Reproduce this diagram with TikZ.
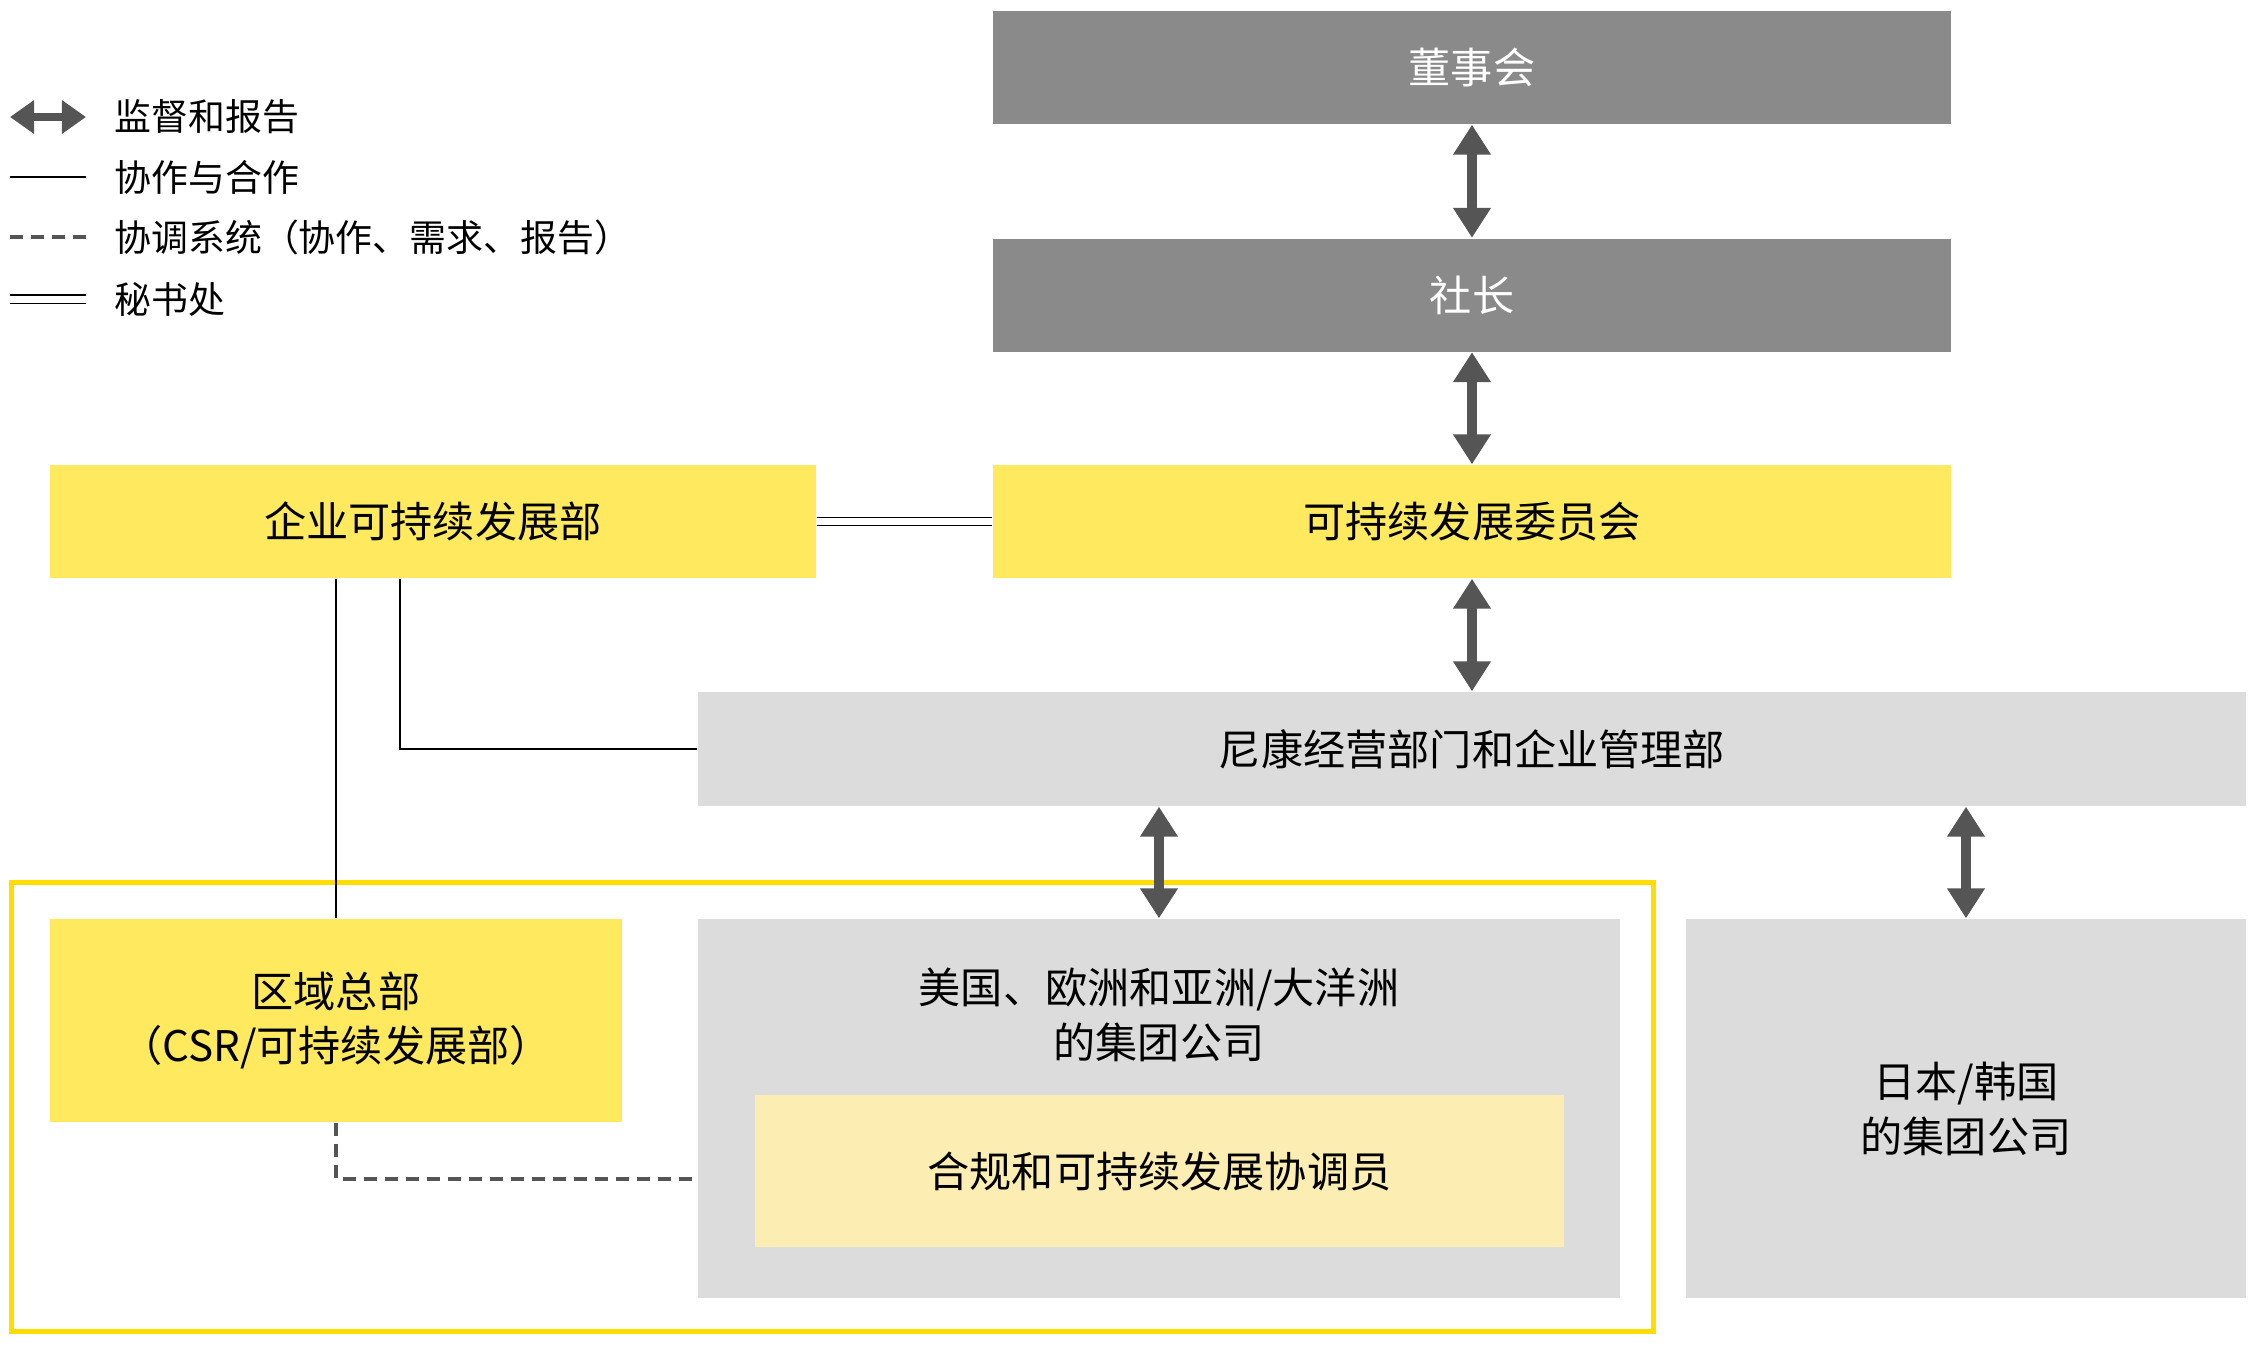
\documentclass[tikz,border=0pt]{standalone}
\usepackage{fontspec}
\setmainfont{Noto Sans CJK SC}
\usetikzlibrary{positioning,arrows.meta}

\definecolor{boardgray}{HTML}{8A8A8A}
\definecolor{sdyellow}{HTML}{FEE95F}
\definecolor{orggray}{HTML}{DCDCDC}
\definecolor{paleyellow}{HTML}{FCEDB2}
\definecolor{frameyellow}{HTML}{FFDD00}
\definecolor{arrowgray}{HTML}{555555}

\begin{document}
\begin{tikzpicture}[>={Triangle[width=0.36cm,length=0.30cm]}, font=\fontsize{12}{15.6}\selectfont]
	\tikzstyle{box}=[rectangle,inner sep=0pt,align=center,minimum height=1.13cm]
	\tikzstyle{top box}=[box,fill=boardgray,text=white,minimum width=9.58cm]
	\tikzstyle{sd box}=[box,fill=sdyellow]
	\tikzstyle{org box}=[box,fill=orggray]
	\tikzstyle{report}=[<->,line width=0.1cm,draw=arrowgray]
	\tikzstyle{coop}=[line width=0.3pt,draw=black]
	\tikzstyle{liaison}=[line width=0.045cm,draw=arrowgray,dash pattern=on 0.13cm off 0.08cm]
	\tikzstyle{secretariat}=[draw=black,line width=0.3pt,double=white,double distance=0.07cm]
	\tikzstyle{legend}=[anchor=west,font=\fontsize{10.5}{13}\selectfont]

	\useasboundingbox (0,0) rectangle (22.56,-13.44);

	% legend
	\coordinate (l1a) at (0.10,-1.17); \coordinate (l1b) at (0.86,-1.17);
	\coordinate (l2a) at (0.10,-1.77); \coordinate (l2b) at (0.86,-1.77);
	\coordinate (l3a) at (0.10,-2.37); \coordinate (l3b) at (0.86,-2.37);
	\coordinate (l4a) at (0.10,-2.99); \coordinate (l4b) at (0.86,-2.99);
	\draw[report,line width=0.08cm,{Triangle[width=0.32cm,length=0.24cm]}-{Triangle[width=0.32cm,length=0.24cm]}] (l1a) -- (l1b);
	\draw[coop] (l2a) -- (l2b);
	\draw[liaison] (l3a) -- (l3b);
	\draw[secretariat] (l4a) -- (l4b);
	\node[legend] (lt1) at (1.02,-1.17) {监督和报告};
	\node[legend] (lt2) at (1.02,-1.77) {协作与合作};
	\node[legend] (lt3) at (1.02,-2.37) {协调系统（协作、需求、报告）};
	\node[legend] (lt4) at (1.02,-2.99) {秘书处};

	% overseas frame
	\draw[frameyellow,line width=0.05cm] (0.115,-8.82) rectangle (16.53,-13.31);

	\node[top box] (board) at (14.72,-0.675) {董事会};
	\node[top box] (president) at (14.72,-2.95) {社长};
	\node[sd box,minimum width=9.58cm] (committee) at (14.72,-5.215) {可持续发展委员会};
	\node[sd box,minimum width=7.66cm] (corpsd) at (4.33,-5.215) {企业可持续发展部};
	\node[org box,minimum width=15.48cm,minimum height=1.14cm] (nikon) at (14.72,-7.49) {尼康经营部门和企业管理部};

	\node[sd box,minimum width=5.72cm,minimum height=2.03cm] (regional) at (3.36,-10.205) {区域总部\\（CSR/可持续发展部）};
	\node[org box,minimum width=9.22cm,minimum height=3.79cm] (group) at (11.59,-11.085) {};
	\node[align=center] (grouplabel) at (11.59,-10.145) {美国、欧洲和亚洲/大洋洲\\的集团公司};
	\node[box,fill=paleyellow,minimum width=8.09cm,minimum height=1.52cm] (coordinator) at (11.595,-11.71) {合规和可持续发展协调员};
	\node[org box,minimum width=5.60cm,minimum height=3.79cm] (japan) at (19.66,-11.085) {日本/韩国\\的集团公司};
	\coordinate (dashend) at (group.west |- 0,-11.79);

	\draw[report] (board) -- (president);
	\draw[report] (president) -- (committee);
	\draw[report] (committee) -- (nikon);
	\draw[report] (nikon.south -| group.north) -- (group.north);
	\draw[report] (nikon.south -| japan.north) -- (japan.north);

	\draw[secretariat] (corpsd.east) -- (committee.west);
	\draw[coop] (regional.north |- corpsd.south) -- (regional.north);
	\draw[coop] ([xshift=-0.33cm]corpsd.south) |- (nikon.west);
	\draw[liaison] (regional.south) |- (dashend);
\end{tikzpicture}
\end{document}
